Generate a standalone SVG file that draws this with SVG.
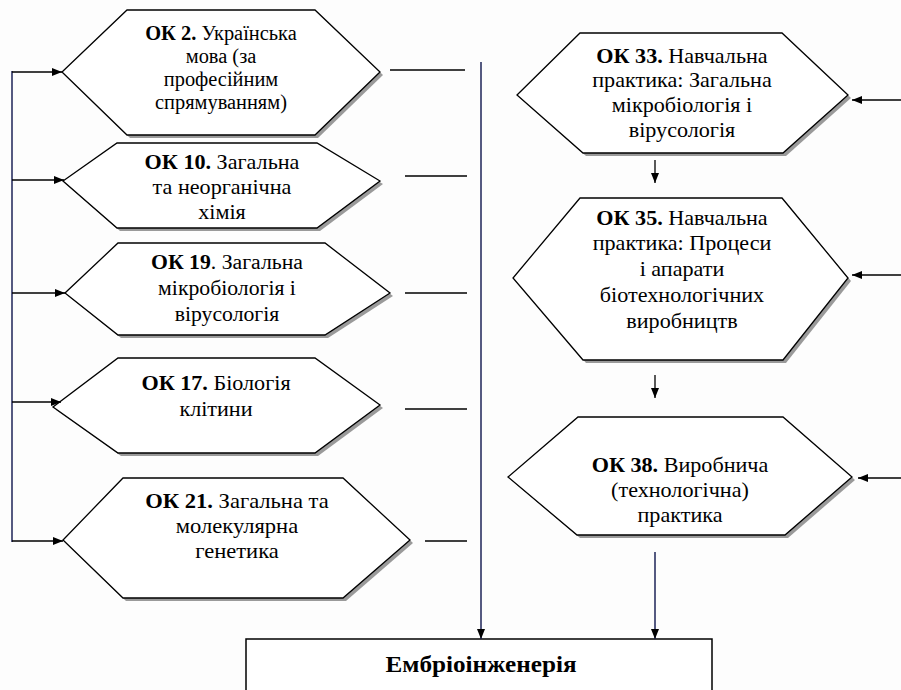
<svg xmlns="http://www.w3.org/2000/svg" width="901" height="690" viewBox="0 0 901 690">
<defs>
<style>
.hex{fill:#fff;stroke:#000;stroke-width:1.3}
.sh{fill:#9a9a9a;stroke:none}
text{font-family:'Liberation Serif','DejaVu Serif',serif;font-size:20.5px;fill:#000;text-anchor:middle}
.b{font-weight:bold}
.ln{stroke:#000;stroke-width:1.3;fill:none}
.nv{stroke:#1c2357;stroke-width:1.5;fill:none}
</style>
<marker id="ah" viewBox="0 0 10 8" refX="10" refY="4" markerWidth="10" markerHeight="8" markerUnits="userSpaceOnUse" orient="auto">
<path d="M0,0 L10,4 L0,8 Z" fill="#000"/>
</marker>
</defs>
<rect width="901" height="690" fill="#fdfdfd"/>

<g id="ok2">
<polygon class="sh" points="130,13 318,13 383,75 318,138 130,138 65,75"/>
<polygon class="hex" points="127,10 315,10 380,72 315,135 127,135 62,72"/>
<text style="font-size:20px" transform="translate(221,0) scale(1.02,1) translate(-221,0)"><tspan x="221" y="40"><tspan class="b">ОК 2.</tspan> Українська</tspan><tspan x="221" y="63">мова (за</tspan><tspan x="221" y="86">професійним</tspan><tspan x="221" y="109">спрямуванням)</tspan></text>
</g>

<g id="ok10">
<polygon class="sh" points="120,146 320,146 383,184 320,231 120,231 66,184"/>
<polygon class="hex" points="117,143 317,143 380,181 317,228 117,228 63,181"/>
<text transform="translate(222,0) scale(1.08,1) translate(-222,0)"><tspan x="222" y="169"><tspan class="b">ОК 10.</tspan> Загальна</tspan><tspan x="222" y="194">та  неорганічна</tspan><tspan x="222" y="219">хімія</tspan></text>
</g>

<g id="ok19">
<polygon class="sh" points="121,246 328,246 393,296 328,338 121,338 68,296"/>
<polygon class="hex" points="118,243 325,243 390,293 325,335 118,335 65,293"/>
<text transform="translate(227,0) scale(1.06,1) translate(-227,0)"><tspan x="227" y="269"><tspan class="b">ОК 19</tspan>. Загальна</tspan><tspan x="227" y="295">мікробіологія і</tspan><tspan x="227" y="321">вірусологія</tspan></text>
</g>

<g id="ok17">
<polygon class="sh" points="121,361 318,361 383,408 318,456 121,456 56,410"/>
<polygon class="hex" points="118,358 315,358 380,405 315,453 118,453 53,407"/>
<text transform="translate(216,0) scale(1.08,1) translate(-216,0)"><tspan x="216" y="390"><tspan class="b">ОК 17.</tspan> Біологія</tspan><tspan x="216" y="416">клітини</tspan></text>
</g>

<g id="ok21">
<polygon class="sh" points="126,481 346,481 413,543 346,601 126,601 66,543"/>
<polygon class="hex" points="123,478 343,478 410,540 343,598 123,598 63,540"/>
<text transform="translate(237,0) scale(1.1,1) translate(-237,0)"><tspan x="237" y="508"><tspan class="b">ОК 21.</tspan> Загальна та</tspan><tspan x="237" y="533">молекулярна</tspan><tspan x="237" y="558">генетика</tspan></text>
</g>

<g id="ok33">
<polygon class="sh" points="583,36 785,36 851,98 786,156 586,156 520,98"/>
<polygon class="hex" points="580,33 782,33 848,95 783,153 583,153 517,95"/>
<text transform="translate(682,0) scale(1.08,1) translate(-682,0)"><tspan x="682" y="63"><tspan class="b">ОК 33.</tspan> Навчальна</tspan><tspan x="682" y="87">практика: Загальна</tspan><tspan x="682" y="112">мікробіологія  і</tspan><tspan x="682" y="137">вірусологія</tspan></text>
</g>

<g id="ok35">
<polygon class="sh" points="583,201 785,201 851,281 786,363 586,363 516,281"/>
<polygon class="hex" points="580,198 782,198 848,278 783,360 583,360 513,278"/>
<text transform="translate(682,0) scale(1.08,1) translate(-682,0)"><tspan x="682" y="225"><tspan class="b">ОК 35.</tspan> Навчальна</tspan><tspan x="682" y="250">практика:  Процеси</tspan><tspan x="682" y="276">і апарати</tspan><tspan x="682" y="302">біотехнологічних</tspan><tspan x="682" y="328">виробництв</tspan></text>
</g>

<g id="ok38">
<polygon class="sh" points="581,420 786,420 855,480 788,538 580,538 511,480"/>
<polygon class="hex" points="578,417 783,417 852,477 785,535 577,535 508,477"/>
<text transform="translate(680,0) scale(1.08,1) translate(-680,0)"><tspan x="680" y="472"><tspan class="b">ОК 38.</tspan> Виробнича</tspan><tspan x="680" y="497">(технологічна)</tspan><tspan x="680" y="522">практика</tspan></text>
</g>

<g id="embrio">
<rect x="246" y="639" width="466" height="70" fill="#fff" stroke="#000" stroke-width="1.5"/>
<text class="b" x="481" y="672" style="font-size:22.5px" transform="translate(481,0) scale(1.12,1) translate(-481,0)">Ембріоінженерія</text>
</g>

<g id="connectors">
<line class="nv" x1="12" y1="71" x2="12" y2="542"/>
<line class="ln" x1="12" y1="72" x2="62" y2="72" marker-end="url(#ah)"/>
<line class="ln" x1="12" y1="180" x2="64" y2="180" marker-end="url(#ah)"/>
<line class="ln" x1="12" y1="293" x2="65" y2="293" marker-end="url(#ah)"/>
<line class="ln" x1="12" y1="402" x2="61" y2="402" marker-end="url(#ah)"/>
<line class="ln" x1="12" y1="541" x2="63" y2="541" marker-end="url(#ah)"/>
<line class="ln" x1="390" y1="70" x2="465" y2="70"/>
<line class="ln" x1="405" y1="176" x2="467" y2="176"/>
<line class="ln" x1="405" y1="293" x2="467" y2="293"/>
<line class="ln" x1="405" y1="409" x2="467" y2="409"/>
<line class="ln" x1="425" y1="541" x2="467" y2="541"/>
<line class="nv" x1="481" y1="62" x2="481" y2="639" marker-end="url(#ah)"/>
<line class="ln" x1="901" y1="100" x2="852" y2="100" marker-end="url(#ah)"/>
<line class="ln" x1="901" y1="275" x2="852" y2="275" marker-end="url(#ah)"/>
<line class="ln" x1="901" y1="478" x2="858" y2="478" marker-end="url(#ah)"/>
<line class="ln" x1="655" y1="160" x2="655" y2="183" marker-end="url(#ah)"/>
<line class="ln" x1="655" y1="375" x2="655" y2="398" marker-end="url(#ah)"/>
<line class="nv" x1="655" y1="552" x2="655" y2="639" marker-end="url(#ah)"/>
</g>
</svg>
